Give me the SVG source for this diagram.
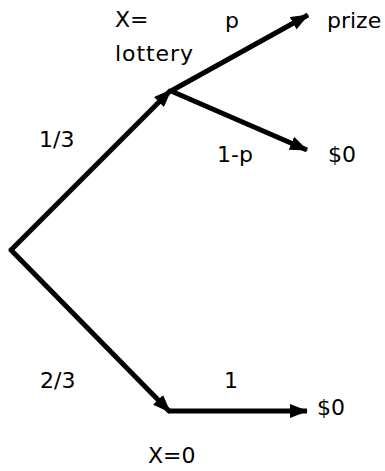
<svg xmlns="http://www.w3.org/2000/svg" width="385" height="471" viewBox="0 0 385 471">
<style>
.t{font-family:"DejaVu Sans","Noto Sans",sans-serif;font-size:22px;fill:#000}
.e{stroke:#000;stroke-width:5;fill:none;marker-end:url(#ah)}
</style>
<defs>
<marker id="ah" markerUnits="userSpaceOnUse" viewBox="0 0 18 14" refX="17" refY="7" markerWidth="18" markerHeight="14" orient="auto">
<path d="M0,0 L18,7 L0,14 Z" fill="#000"/>
</marker>
</defs>
<rect width="385" height="471" fill="#fff"/>
<g id="connectors">
<line class="e" x1="10" y1="251" x2="171" y2="90"/>
<line class="e" x1="10" y1="249" x2="170" y2="412"/>
<line class="e" x1="171" y1="91" x2="308" y2="15"/>
<line class="e" x1="171" y1="91" x2="307" y2="150"/>
<line class="e" x1="168" y1="411" x2="307" y2="411"/>
</g>
<g id="node-lottery">
<text class="t" x="115" y="27">X=</text>
<text class="t" x="115" y="61" textLength="78">lottery</text>
</g>
<g id="node-zero"><text class="t" x="148" y="463">X=0</text></g>
<g id="node-prize"><text class="t" x="327" y="28">prize</text></g>
<g id="node-0a"><text class="t" x="328" y="162">$0</text></g>
<g id="node-0b"><text class="t" x="317" y="415">$0</text></g>
<g id="labels">
<text class="t" x="225" y="28">p</text>
<text class="t" x="39" y="147">1/3</text>
<text class="t" x="217" y="162">1-p</text>
<text class="t" x="40" y="388">2/3</text>
<text class="t" x="224" y="388">1</text>
</g>
</svg>
